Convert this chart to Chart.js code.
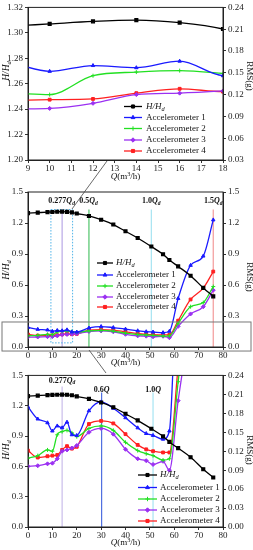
<!DOCTYPE html>
<html>
<head>
<meta charset="utf-8">
<script src="https://cdn.jsdelivr.net/npm/chart.js@4.4.1/dist/chart.umd.min.js"></script>
<style>
html, body { margin: 0; padding: 0; background: #fff; }
#wrap { position: relative; width: 253px; height: 550px; overflow: hidden; }
canvas { position: absolute; left: 0; }
</style>
</head>
<body>
<div id="wrap">
<canvas id="c1" width="253" height="182" style="top:0px"></canvas>
<canvas id="c2" width="253" height="186" style="top:182px"></canvas>
<canvas id="c3" width="253" height="182" style="top:368px"></canvas>
<canvas id="ov" width="253" height="550" style="top:0px;pointer-events:none"></canvas>
</div>
<script>
// head curve, flow rate Q in m3/h
const qHead = [0, 4, 8, 10, 12, 14, 16, 18, 20, 25, 30, 35, 40, 45, 50.6, 55.4, 58, 61.6, 66.7, 71.9, 76];
const head = [1.295, 1.300, 1.305, 1.307, 1.309, 1.310, 1.308, 1.303, 1.292, 1.268, 1.232, 1.185, 1.120, 1.055, 0.972, 0.897, 0.842, 0.780, 0.690, 0.572, 0.490];

// vibration RMS (g) of the four accelerometers
const qAcc = [0, 4, 8, 10, 12, 14, 16, 18, 20, 25, 30, 35, 40, 45, 48.5, 51.3, 55.4, 58, 61.6, 66.7, 71.9, 76];
const acc1 = [0.190, 0.171, 0.165, 0.152, 0.160, 0.157, 0.166, 0.146, 0.145, 0.184, 0.198, 0.188, 0.173, 0.157, 0.148, 0.145, 0.139, 0.152, 0.47, 0.79, 0.88, 1.23];
const acc2 = [0.109, 0.113, 0.122, 0.120, 0.146, 0.151, 0.153, 0.149, 0.143, 0.156, 0.160, 0.153, 0.134, 0.121, 0.116, 0.113, 0.106, 0.108, 0.23, 0.39, 0.43, 0.585];
const acc3 = [0.096, 0.097, 0.100, 0.101, 0.108, 0.120, 0.122, 0.125, 0.129, 0.150, 0.156, 0.147, 0.123, 0.108, 0.105, 0.099, 0.104, 0.090, 0.20, 0.32, 0.39, 0.55];
const acc4 = [0.121, 0.110, 0.112, 0.113, 0.114, 0.122, 0.128, 0.124, 0.127, 0.163, 0.168, 0.164, 0.147, 0.130, 0.123, 0.120, 0.118, 0.118, 0.255, 0.46, 0.57, 0.73];

const accNames = ['Accelerometer 1', 'Accelerometer 2', 'Accelerometer 3', 'Accelerometer 4'];

const FONT = '"Liberation Serif", "Times New Roman", serif';
const colors = ['#000000', '#1a1aff', '#22e022', '#9b30f2', '#ff2020'];
const markers = ['rect', 'triangle', 'cross', 'rectRot', 'rect'];

function pts(xs, ys) {
    return xs.map((x, i) => ({ x: x, y: ys[i] }));
}

function buildDatasets() {
    const ds = [{
        label: 'H/Hd', data: pts(qHead, head), yAxisID: 'y',
        borderColor: colors[0], backgroundColor: colors[0], borderWidth: 1.3,
        pointStyle: markers[0], pointRadius: 2, cubicInterpolationMode: 'monotone'
    }];
    [acc1, acc2, acc3, acc4].forEach((a, i) => {
        ds.push({
            label: accNames[i], data: pts(qAcc, a), yAxisID: 'y2',
            borderColor: colors[i + 1], backgroundColor: colors[i + 1], borderWidth: 1.3,
            pointStyle: markers[i + 1], pointRadius: 2, pointBorderWidth: 1,
            cubicInterpolationMode: 'monotone'
        });
    });
    return ds;
}

// text with italic / bold / sub / sup parts: [text, italic, bold, shift]
function drawRich(ctx, parts, x, y, size, align) {
    const fonts = parts.map(p => {
        const s = p[3] ? size * 0.7 : size;
        return (p[1] ? 'italic ' : '') + (p[2] ? 'bold ' : '') + s + 'px ' + FONT;
    });
    let w = 0;
    parts.forEach((p, i) => { ctx.font = fonts[i]; w += ctx.measureText(p[0]).width; });
    let cx = align === 'center' ? x - w / 2 : (align === 'right' ? x - w : x);
    ctx.textAlign = 'left';
    ctx.textBaseline = 'middle';
    parts.forEach((p, i) => {
        ctx.font = fonts[i];
        ctx.fillText(p[0], cx, y + (p[3] || 0) * size * 0.3);
        cx += ctx.measureText(p[0]).width;
    });
}

const hTitle = [['H/H', true], ['d', true, false, 1]];
const qTitle = [['Q', true], ['(m'], ['3', false, false, -1], ['/h)']];
const rmsTitle = [['RMS(g)']];
function qdLabel(t) { return [[t, false, true], ['Q', true, true], ['d', true, true, 1]]; }

const extras = {
    c1: {
        legend: { x0: 124, x1: 142, tx: 146, rows: [106.5, 117.5, 128.5, 140, 151] },
        titles: { left: 71, right: 76, bottom: 177 },
        vlines: [], labels: []
    },
    c2: {
        legend: { x0: 97, x1: 113, tx: 116, rows: [81, 93, 104, 115, 125] },
        titles: { left: 88, right: 95, bottom: 181 },
        vlines: [
            { q: 14, top: 1.33, c: '#b9a8e6' },
            { q: 25, top: 1.33, c: '#4fc46a' },
            { q: 50.6, top: 1.33, c: '#a6e4f2' },
            { q: 76, top: 1.33, c: '#f29a9a' }
        ],
        box: { q0: 9.4, q1: 18.3, v0: 0.04, v1: 1.33 },
        grayBox: { x0: 2, x1: 251, v0: -0.039, v1: 0.242 },
        labels: [
            { q: 13.8, v: 1.413, parts: qdLabel('0.277') },
            { q: 24.8, v: 1.413, parts: qdLabel('0.5') },
            { q: 50.6, v: 1.413, parts: qdLabel('1.0') },
            { q: 76, v: 1.413, parts: qdLabel('1.5') }
        ]
    },
    c3: {
        legend: { x0: 138, x1: 157, tx: 160, rows: [107, 119.5, 131, 142, 153] },
        titles: { left: 82, right: 82, bottom: 175 },
        vlines: [
            { q: 14, top: 1.39, c: '#c9bdeb' },
            { q: 30.2, top: 1.33, c: '#4f6fe0' },
            { q: 51.3, top: 1.33, c: '#a6e4f2' }
        ],
        labels: [
            { q: 14, v: 1.45, parts: qdLabel('0.277') },
            { q: 30.2, v: 1.353, parts: [['0.6', false, true], ['Q', true, true]] },
            { q: 51.3, v: 1.353, parts: [['1.0', false, true], ['Q', true, true]] }
        ]
    }
};

const extrasPlugin = {
    id: 'extras',
    beforeDatasetsDraw(chart) {
        const e = extras[chart.canvas.id];
        const ctx = chart.ctx, x = chart.scales.x, y = chart.scales.y;
        ctx.save();
        ctx.lineWidth = 1.2;
        e.vlines.forEach(l => {
            const px = x.getPixelForValue(l.q);
            ctx.strokeStyle = l.c;
            ctx.beginPath();
            ctx.moveTo(px, y.getPixelForValue(0));
            ctx.lineTo(px, y.getPixelForValue(l.top));
            ctx.stroke();
        });
        if (e.box) {
            ctx.strokeStyle = '#4fb3e8';
            ctx.lineWidth = 1;
            ctx.setLineDash([1.5, 1.5]);
            const a = x.getPixelForValue(e.box.q0), b = x.getPixelForValue(e.box.q1);
            const t = y.getPixelForValue(e.box.v1), u = y.getPixelForValue(e.box.v0);
            ctx.strokeRect(a, t, b - a, u - t);
        }
        ctx.restore();
    },
    afterDraw(chart) {
        const e = extras[chart.canvas.id];
        const ctx = chart.ctx, x = chart.scales.x, y = chart.scales.y;
        const area = chart.chartArea;
        ctx.save();
        ctx.strokeStyle = '#222';
        ctx.lineWidth = 1;
        ctx.strokeRect(area.left, area.top, area.right - area.left, area.bottom - area.top);

        if (e.grayBox) {
            ctx.strokeStyle = '#777';
            const t = y.getPixelForValue(e.grayBox.v1), u = y.getPixelForValue(e.grayBox.v0);
            ctx.strokeRect(e.grayBox.x0, t, e.grayBox.x1 - e.grayBox.x0, u - t);
        }

        ctx.fillStyle = '#111';
        e.labels.forEach(l => {
            drawRich(ctx, l.parts, x.getPixelForValue(l.q), y.getPixelForValue(l.v), 8, 'center');
        });

        // legend
        const lg = e.legend;
        chart.data.datasets.forEach((d, i) => {
            const ry = lg.rows[i];
            ctx.strokeStyle = d.borderColor;
            ctx.fillStyle = d.borderColor;
            ctx.lineWidth = 1.3;
            ctx.beginPath();
            ctx.moveTo(lg.x0, ry);
            ctx.lineTo(lg.x1, ry);
            ctx.stroke();
            ctx.lineWidth = 1;
            Chart.helpers.drawPoint(ctx, { pointStyle: d.pointStyle, radius: 2.2, rotation: 0, borderWidth: 1 }, (lg.x0 + lg.x1) / 2, ry);
            ctx.fillStyle = '#111';
            const parts = i === 0 ? hTitle : [[d.label]];
            drawRich(ctx, parts, lg.tx, ry, 9, 'left');
        });

        // axis titles
        ctx.fillStyle = '#111';
        const t = e.titles;
        ctx.save();
        ctx.translate(6, t.left);
        ctx.rotate(-Math.PI / 2);
        drawRich(ctx, hTitle, 0, 0, 9.5, 'center');
        ctx.restore();
        ctx.save();
        ctx.translate(249, t.right);
        ctx.rotate(Math.PI / 2);
        drawRich(ctx, rmsTitle, 0, 0, 9, 'center');
        ctx.restore();
        drawRich(ctx, qTitle, (area.left + area.right) / 2, t.bottom, 9, 'center');
        ctx.restore();
    }
};
Chart.register(extrasPlugin);

function axis(pos, min, max, step, dec, width) {
    return {
        type: 'linear', position: pos, min: min, max: max,
        ticks: {
            stepSize: step, autoSkip: false, padding: pos === 'bottom' ? 0 : 2,
            color: '#222', font: { family: FONT, size: 9 },
            callback: v => v.toFixed(dec)
        },
        grid: { drawOnChartArea: false, color: '#333', tickLength: 3 },
        border: { display: true, color: '#222' },
        title: { display: false },
        afterFit: s => { if (pos === 'bottom') s.height = width; else s.width = width; }
    };
}

function makeChart(id, xr, yr, y2r, padTop, xh) {
    new Chart(document.getElementById(id), {
        type: 'line',
        data: { datasets: buildDatasets() },
        options: {
            responsive: false, animation: false, events: [],
            layout: { padding: { top: padTop, left: 0, right: 0, bottom: 0 } },
            scales: {
                x: axis('bottom', xr[0], xr[1], xr[2], 0, xh),
                y: axis('left', yr[0], yr[1], yr[2], yr[3], 28),
                y2: axis('right', y2r[0], y2r[1], y2r[2], y2r[3], 30)
            },
            plugins: { legend: { display: false }, tooltip: { enabled: false } }
        }
    });
}

makeChart('c1', [9, 18, 1], [1.20, 1.32, 0.02, 2], [0.03, 0.24, 0.03, 2], 7, 22);
makeChart('c2', [0, 80, 10], [0, 1.5, 0.3, 1], [0, 1.5, 0.3, 1], 10, 21);
makeChart('c3', [0, 80, 10], [0, 1.5, 0.3, 1], [0, 0.24, 0.03, 2], 6, 23);

// zoom connector lines between the panels
const ov = document.getElementById('ov').getContext('2d');
ov.strokeStyle = '#444';
ov.lineWidth = 0.8;
ov.beginPath();
ov.moveTo(107, 161); ov.lineTo(72, 209);
ov.moveTo(89, 350); ov.lineTo(106, 373);
ov.stroke();
</script>
</body>
</html>
